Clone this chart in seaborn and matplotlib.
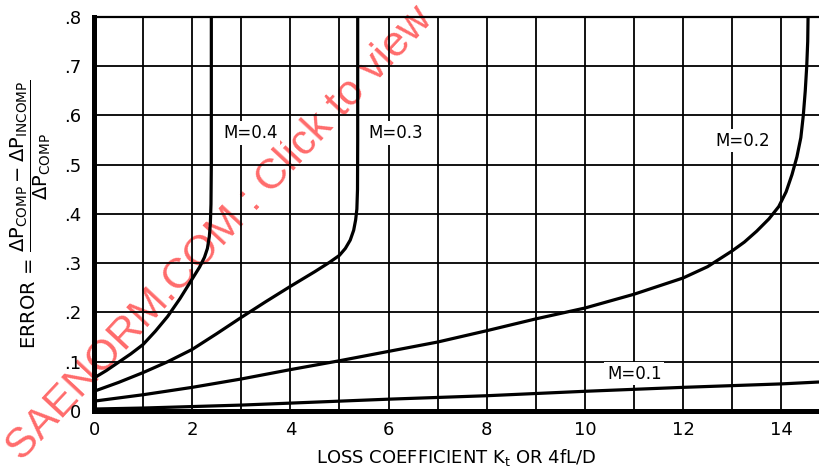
import matplotlib
matplotlib.use("Agg")
import numpy as np
import pandas as pd
import seaborn as sns
import matplotlib.pyplot as plt

# Error curves read as (loss coefficient, error) pairs for each Mach number
k_m01 = [0, 1, 2, 3, 4, 6, 8, 10, 12, 14, 14.8]
err_m01 = [0.004, 0.006, 0.009, 0.012, 0.016, 0.024, 0.031, 0.040, 0.048, 0.055, 0.059]

k_m02 = [0, 1, 2, 3, 4, 5, 6, 7, 8, 9, 10, 11, 12, 12.5, 13, 13.25, 13.5, 13.75,
         13.95, 14.1, 14.22, 14.32, 14.4, 14.45, 14.49, 14.52, 14.54, 14.55]
err_m02 = [0.020, 0.033, 0.048, 0.065, 0.084, 0.102, 0.121, 0.140, 0.163, 0.187,
           0.209, 0.237, 0.270, 0.293, 0.325, 0.343, 0.365, 0.390, 0.415, 0.445,
           0.480, 0.516, 0.555, 0.600, 0.650, 0.700, 0.750, 0.820]

k_m03 = [0, 0.5, 1, 1.5, 2, 2.5, 3, 3.5, 4, 4.5, 4.8, 5.0, 5.12, 5.22, 5.29,
         5.33, 5.355, 5.368, 5.372, 5.372]
err_m03 = [0.040, 0.058, 0.078, 0.100, 0.125, 0.157, 0.190, 0.222, 0.253, 0.283,
           0.302, 0.316, 0.330, 0.347, 0.367, 0.388, 0.410, 0.450, 0.550, 0.820]

k_m04 = [0, 0.25, 0.5, 0.75, 1.0, 1.25, 1.5, 1.75, 2.0, 2.15, 2.25, 2.31, 2.35,
         2.37, 2.383, 2.39, 2.39]
err_m04 = [0.067, 0.082, 0.099, 0.116, 0.135, 0.162, 0.192, 0.228, 0.268, 0.292,
           0.312, 0.330, 0.355, 0.380, 0.420, 0.500, 0.820]

mach = [0.1, 0.2, 0.3, 0.4]
curve_labels = ["M=0.1", "M=0.2", "M=0.3", "M=0.4"]
label_k = [10.45, 12.65, 5.58, 2.63]
label_err = [0.076, 0.549, 0.564, 0.564]

x_major = [0, 2, 4, 6, 8, 10, 12, 14]
x_minor = [1, 3, 5, 7, 9, 11, 13]
y_ticks = [0, 0.1, 0.2, 0.3, 0.4, 0.5, 0.6, 0.7, 0.8]
y_ticklabels = ["0", ".1", ".2", ".3", ".4", ".5", ".6", ".7", ".8"]

frames = []
for m, k, e in zip(mach, [k_m01, k_m02, k_m03, k_m04], [err_m01, err_m02, err_m03, err_m04]):
    frames.append(pd.DataFrame({"K": k, "error": e, "M": m}))
df = pd.concat(frames, ignore_index=True)

sns.set_theme(style="white")
plt.rcParams["font.family"] = ["DejaVu Sans"]
plt.rcParams["mathtext.fontset"] = "dejavusans"
for key in ["text.color", "axes.labelcolor", "xtick.color", "ytick.color"]:
    plt.rcParams[key] = "black"

fig = plt.figure(figsize=(8.19, 4.68), dpi=100)
ax = fig.add_axes([0.1148, 0.1218, 0.8852, 0.842])

sns.lineplot(data=df, x="K", y="error", units="M", estimator=None, sort=False,
             color="black", lw=2.3, ax=ax, zorder=3)

ax.set_xlim(0, 14.77)
ax.set_ylim(0, 0.8)
ax.set_xticks(x_major)
ax.set_xticks(x_minor, minor=True)
ax.set_yticks(y_ticks)
ax.set_yticklabels(y_ticklabels)
ax.set_axisbelow(True)
ax.grid(which="both", color="black", lw=1.3)
ax.tick_params(which="both", length=0, labelsize=13, colors="black")
ax.tick_params(axis="y", pad=9)
ax.tick_params(axis="x", pad=7)

for side in ["left", "bottom"]:
    ax.spines[side].set_linewidth(3.6)
    ax.spines[side].set_color("black")
ax.spines["top"].set_linewidth(1.6)
ax.spines["top"].set_color("black")
ax.spines["right"].set_visible(False)

for lab, lx, ly in zip(curve_labels, label_k, label_err):
    ax.text(lx, ly, lab, fontsize=12, va="center", ha="left", color="black",
            zorder=4, bbox=dict(fc="white", ec="none", pad=2))

ax.set_xlabel(r"LOSS COEFFICIENT K$_\mathregular{t}$ OR 4fL/D", fontsize=13, labelpad=6)
ax.set_ylabel(r"ERROR = $\dfrac{\Delta\mathrm{P}_{\mathrm{COMP}} - \Delta\mathrm{P}_{\mathrm{INCOMP}}}"
              r"{\Delta\mathrm{P}_{\mathrm{COMP}}}$", fontsize=14, labelpad=8)

# Diagonal site stamp behind the grid
ax.text(0.268, 0.500, "SAENORM.COM : Click to view", transform=fig.transFigure,
        fontsize=31, family="Liberation Sans", color="#ff6b6b", rotation=47,
        rotation_mode="anchor", ha="center", va="center", zorder=0.2, clip_on=False)

fig.savefig("out.png", dpi=100)
